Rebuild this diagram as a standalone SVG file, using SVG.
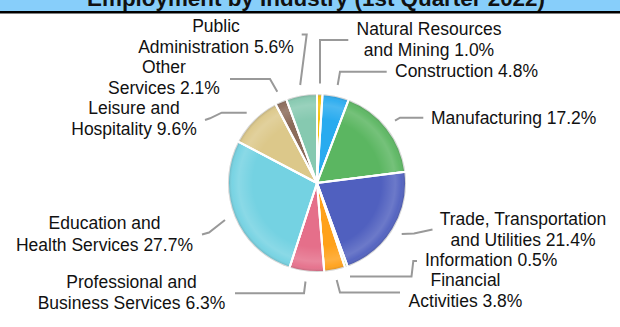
<svg xmlns="http://www.w3.org/2000/svg" width="620" height="327" viewBox="0 0 620 327">
<style>
  .lbl { font-family: "Liberation Sans", Arial, sans-serif; font-size: 17.5px; fill: #111; }
  .mid { text-anchor: middle; }
  .title { font-family: "Liberation Sans", Arial, sans-serif; font-size: 22.4px; font-weight: bold; fill: #111; text-anchor: middle; }
  .slice { stroke: #fff; stroke-width: 2; stroke-linejoin: round; }
  .leader { fill: none; stroke: #999; stroke-width: 2; }
  .sep { fill: none; stroke: #fff; stroke-width: 2; stroke-linecap: round; }
</style>
<defs>
  <radialGradient id="rim" gradientUnits="userSpaceOnUse" cx="317" cy="183" r="89">
    <stop offset="0" stop-color="#fff" stop-opacity="0"/>
    <stop offset="0.72" stop-color="#fff" stop-opacity="0"/>
    <stop offset="0.88" stop-color="#fff" stop-opacity="0.16"/>
    <stop offset="0.95" stop-color="#fff" stop-opacity="0.04"/>
    <stop offset="1" stop-color="#000" stop-opacity="0.2"/>
  </radialGradient>
</defs>
<rect width="620" height="327" fill="#fff"/>
<g id="title">
  <rect x="0" y="-20" width="620" height="31.5" fill="#87CEFA"/>
  <line x1="0" y1="12.2" x2="620" y2="12.2" stroke="#000" stroke-width="2.4"/>
  <text class="title" x="316" y="6">Employment by Industry (1st Quarter 2022)</text>
</g>
<g id="pie">
  <path id="s-natres" class="slice" fill="#F5C20A" d="M317,183 L317,94 A89,89 0 0 1 322.59,94.18 Z"/>
  <path id="s-construction" class="slice" fill="#29ABEF" d="M317,183 L322.59,94.18 A89,89 0 0 1 348.72,99.84 Z"/>
  <path id="s-manufacturing" class="slice" fill="#5BB661" d="M317,183 L348.72,99.84 A89,89 0 0 1 405.30,171.85 Z"/>
  <path id="s-trade" class="slice" fill="#5060BF" d="M317,183 L405.30,171.85 A89,89 0 0 1 347.67,266.55 Z"/>
  <path id="s-info" class="slice" fill="#A5D66A" d="M317,183 L347.67,266.55 A89,89 0 0 1 345.03,267.47 Z"/>
  <path id="s-financial" class="slice" fill="#FFA11A" d="M317,183 L345.03,267.47 A89,89 0 0 1 324.26,271.70 Z"/>
  <path id="s-professional" class="slice" fill="#E56F8A" d="M317,183 L324.26,271.70 A89,89 0 0 1 289.50,267.64 Z"/>
  <path id="s-education" class="slice" fill="#74D2E2" d="M317,183 L289.50,267.64 A89,89 0 0 1 238.21,141.61 Z"/>
  <path id="s-leisure" class="slice" fill="#DCC88A" d="M317,183 L238.21,141.61 A89,89 0 0 1 275.61,104.21 Z"/>
  <path id="s-other" class="slice" fill="#8B6B5A" d="M317,183 L275.61,104.21 A89,89 0 0 1 286.33,99.45 Z"/>
  <path id="s-public" class="slice" fill="#86C9B0" d="M317,183 L286.33,99.45 A89,89 0 0 1 317,94 Z"/>
  <circle cx="317" cy="183" r="89" fill="url(#rim)"/>
  <path class="sep" d="M317,183 L317,93 M317,183 L322.6,93.2 M317,183 L348.9,98.9 M317,183 L406.3,171.7 M317,183 L348,267.5 M317,183 L345.3,268.4 M317,183 L324.3,272.7 M317,183 L289.2,268.6 M317,183 L237.3,141.1 M317,183 L275.1,103.3 M317,183 L286,98.5"/>
</g>
<g id="connectors">
  <polyline class="leader" points="301.7,34.4 306.7,34.4 300.2,85"/>
  <polyline class="leader" points="320,83.5 320,40 348.3,40"/>
  <polyline class="leader" points="337.7,85 340,71.7 386.7,71.7"/>
  <polyline class="leader" points="395,120.7 400,117.7 423.3,117.7"/>
  <polyline class="leader" points="401.7,234 414,233.5 432.5,229.5"/>
  <polyline class="leader" points="350,276.5 411.5,276.5 413.3,261 417,261"/>
  <polyline class="leader" points="336.7,280 340,292.5 400,292.5"/>
  <polyline class="leader" points="305.5,281.5 304,293.3 235,293.3"/>
  <polyline class="leader" points="202,234.5 209,232.5 225,220"/>
  <polyline class="leader" points="205,120 210,118.3 221.7,112.7 246.7,112.7"/>
  <polyline class="leader" points="230,79 270,79 277.3,91.7"/>
</g>
<g id="label-public"><text class="lbl mid" x="216" y="31.7">Public</text><text class="lbl mid" x="216" y="52.5">Administration 5.6%</text></g>
<g id="label-natres"><text class="lbl mid" x="429" y="35">Natural Resources</text><text class="lbl mid" x="429" y="56">and Mining 1.0%</text></g>
<g id="label-construction"><text class="lbl" x="395" y="76.7">Construction 4.8%</text></g>
<g id="label-manufacturing"><text class="lbl" x="431" y="124">Manufacturing 17.2%</text></g>
<g id="label-trade"><text class="lbl mid" x="523" y="225">Trade, Transportation</text><text class="lbl mid" x="523" y="245.5">and Utilities 21.4%</text></g>
<g id="label-info"><text class="lbl" x="425" y="266">Information 0.5%</text></g>
<g id="label-financial"><text class="lbl mid" x="465.5" y="286.3">Financial</text><text class="lbl mid" x="465.5" y="307.3">Activities 3.8%</text></g>
<g id="label-professional"><text class="lbl mid" x="131.5" y="287.6">Professional and</text><text class="lbl mid" x="131.5" y="309.3">Business Services 6.3%</text></g>
<g id="label-education"><text class="lbl mid" x="104.5" y="229">Education and</text><text class="lbl mid" x="104.5" y="250.5">Health Services 27.7%</text></g>
<g id="label-leisure"><text class="lbl mid" x="134" y="114.3">Leisure and</text><text class="lbl mid" x="134" y="135.3">Hospitality 9.6%</text></g>
<g id="label-other"><text class="lbl mid" x="164" y="72.7">Other</text><text class="lbl mid" x="164" y="94">Services 2.1%</text></g>
</svg>
